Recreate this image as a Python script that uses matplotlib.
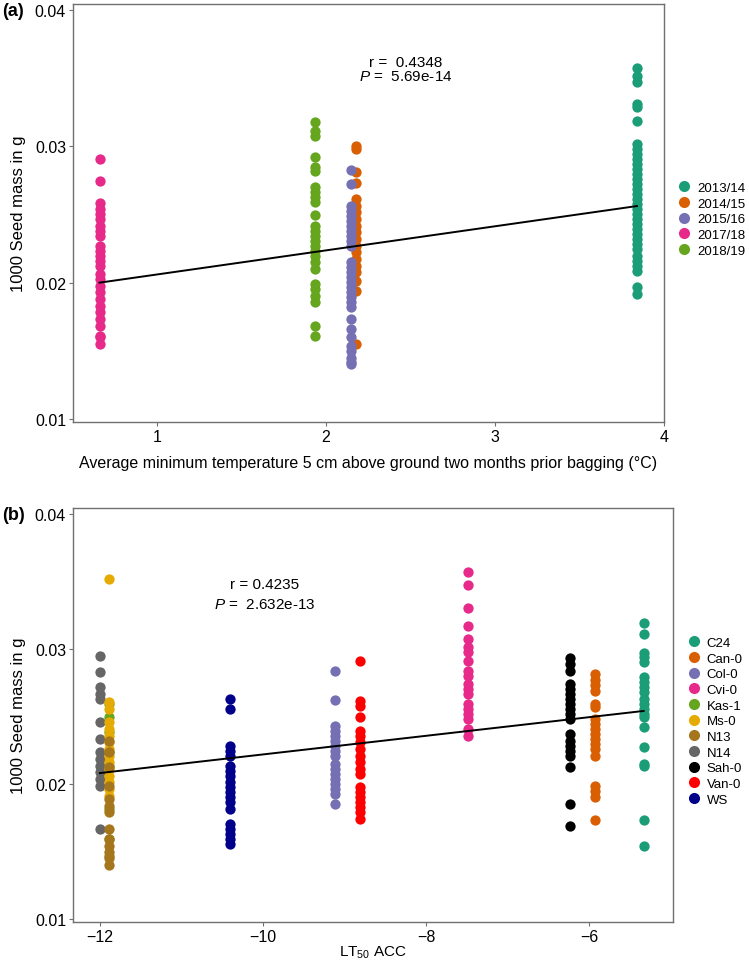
import numpy as np
import matplotlib
matplotlib.use("Agg")
import matplotlib.pyplot as plt
from matplotlib.lines import Line2D

plt.rcParams['font.family'] = ['Liberation Sans', 'DejaVu Sans']
plt.rcParams['mathtext.fontset'] = 'custom'
plt.rcParams['mathtext.rm'] = 'Liberation Sans'
plt.rcParams['mathtext.it'] = 'Liberation Sans:italic'

# ---- panel (a): seed mass vs temperature, per season ----
seasons = ['2013/14', '2014/15', '2015/16', '2017/18', '2018/19']
season_colors = ['#1B9E77', '#D95F02', '#7570B3', '#E7298A', '#66A61E']
season_temp = [3.84, 2.18, 2.146, 0.66, 1.935]

mass_1314 = [0.03575, 0.03518, 0.0347, 0.0331, 0.03286, 0.03188, 0.03017, 0.0298,
             0.02943, 0.02907, 0.0287, 0.02834, 0.02797, 0.0276, 0.02724, 0.02687,
             0.0265, 0.02614, 0.02577, 0.0254, 0.02504, 0.02467, 0.0243, 0.02394,
             0.02357, 0.0232, 0.02284, 0.02247, 0.02198, 0.02161, 0.02125, 0.02088,
             0.01966, 0.01917]
mass_1415 = [0.03005, 0.0298, 0.0281, 0.02729, 0.02614, 0.02565, 0.02516, 0.02467,
             0.02418, 0.02369, 0.0232, 0.02271, 0.02222, 0.02174, 0.02125, 0.02076,
             0.02015, 0.01941, 0.0155]
mass_1516 = [0.02826, 0.02724, 0.02565, 0.02528, 0.02491, 0.02455, 0.02418, 0.02381,
             0.02345, 0.02308, 0.02271, 0.02149, 0.02113, 0.02076, 0.02039, 0.02003,
             0.01966, 0.01929, 0.01893, 0.01856, 0.01819, 0.01733, 0.0166, 0.01599,
             0.01538, 0.0150, 0.0145, 0.0142, 0.0140]
mass_1718 = [0.02907, 0.02743, 0.02584, 0.0254, 0.02503, 0.02467, 0.02418, 0.02381,
             0.02345, 0.02271, 0.02235, 0.02198, 0.02161, 0.02125, 0.02064, 0.02027,
             0.01978, 0.01929, 0.0188, 0.01831, 0.01782, 0.01733, 0.01684, 0.01611,
             0.0160, 0.0155]
mass_1819 = [0.03176, 0.03115, 0.03078, 0.02919, 0.02846, 0.02821, 0.027, 0.02663,
             0.02626, 0.0259, 0.02496, 0.02418, 0.02381, 0.02345, 0.02308, 0.02271,
             0.02235, 0.02198, 0.02149, 0.021, 0.0199, 0.01953, 0.01904, 0.01856,
             0.01684, 0.01611]
season_mass = [mass_1314, mass_1415, mass_1516, mass_1718, mass_1819]

fit_a_x = [0.66, 3.84]
fit_a_y = [0.0200, 0.02562]

# ---- panel (b): seed mass vs LT50 ACC, per accession ----
accessions = ['C24', 'Can-0', 'Col-0', 'Cvi-0', 'Kas-1', 'Ms-0', 'N13', 'N14',
              'Sah-0', 'Van-0', 'WS']
acc_colors = ['#1B9E77', '#D95F02', '#7570B3', '#E7298A', '#66A61E', '#E6AB02',
              '#A6761D', '#666666', '#000000', '#FF0000', '#00008B']
acc_lt50 = [-5.33, -5.93, -9.11, -7.48, -11.89, -11.89, -11.89, -12.0, -6.23, -8.81, -10.41]

m_c24 = [0.03193, 0.03111, 0.0297, 0.02938, 0.02901, 0.0279, 0.02753, 0.02716,
         0.02679, 0.0263, 0.02593, 0.02556, 0.02519, 0.02494, 0.0242, 0.02272,
         0.02148, 0.02131, 0.01736, 0.0154]
m_can0 = [0.02815, 0.02773, 0.02733, 0.02686, 0.02593, 0.02568, 0.02481, 0.02444,
          0.02407, 0.0237, 0.02333, 0.02296, 0.02259, 0.0221, 0.01988, 0.01951,
          0.01901, 0.01736]
m_col0 = [0.0284, 0.02625, 0.02432, 0.02395, 0.02358, 0.02321, 0.02284, 0.02247,
          0.0221, 0.02148, 0.02111, 0.02074, 0.02037, 0.02, 0.01963, 0.01926, 0.01852]
m_cvi0 = [0.03573, 0.03474, 0.03301, 0.03173, 0.03074, 0.03012, 0.02975, 0.02914,
          0.0284, 0.02802, 0.02741, 0.02704, 0.02667, 0.02593, 0.02556, 0.02519,
          0.02481, 0.02407, 0.02358]
m_kas1 = [0.02593, 0.02494, 0.02383, 0.02235, 0.02136, 0.01815, 0.01593]
m_ms0 = [0.03519, 0.02605, 0.02556, 0.02457, 0.02407, 0.02358, 0.02309, 0.02259,
         0.0221, 0.02161, 0.02111, 0.02062, 0.02012, 0.01963, 0.01914]
m_n13 = [0.02321, 0.02235, 0.02124, 0.01988, 0.01889, 0.0184, 0.01791, 0.01667,
         0.01593, 0.01543, 0.01494, 0.01469, 0.0145, 0.0140]
m_n14 = [0.02951, 0.02827, 0.02716, 0.02667, 0.0263, 0.02457, 0.02333, 0.02235,
         0.02185, 0.02136, 0.02086, 0.02037, 0.01988, 0.01667]
m_sah0 = [0.02931, 0.02889, 0.0284, 0.02741, 0.02704, 0.02667, 0.0263, 0.02593,
          0.02556, 0.02519, 0.02481, 0.0237, 0.02321, 0.02284, 0.02247, 0.0221,
          0.02123, 0.01852, 0.01691]
m_van0 = [0.02909, 0.02617, 0.0258, 0.02494, 0.02395, 0.02358, 0.02309, 0.02259,
          0.0221, 0.02161, 0.02111, 0.02074, 0.01975, 0.01938, 0.01901, 0.01864,
          0.01827, 0.0179, 0.01741]
m_ws = [0.0263, 0.02556, 0.02284, 0.02247, 0.0221, 0.02136, 0.02099, 0.02062,
        0.02012, 0.01975, 0.01938, 0.01901, 0.01864, 0.01815, 0.01704, 0.01667,
        0.0163, 0.01593, 0.01556]
acc_mass = [m_c24, m_can0, m_col0, m_cvi0, m_kas1, m_ms0, m_n13, m_n14, m_sah0,
            m_van0, m_ws]

fit_b_x = [-12.0, -5.33]
fit_b_y = [0.02081, 0.02541]

W, H = 749, 962
fig = plt.figure(figsize=(W / 100, H / 100), dpi=100)
ax1 = fig.add_axes([73 / W, 1 - 423 / H, 591 / W, 418 / H])
ax2 = fig.add_axes([73 / W, 1 - 923 / H, 600 / W, 414 / H])

# draw order: N14 first, then Kas-1, Ms-0, N13 on top
order_b = [7, 4, 5, 6, 10, 2, 9, 3, 8, 1, 0]

for i in range(len(seasons)):
    ax1.scatter([season_temp[i]] * len(season_mass[i]), season_mass[i], s=55,
                color=season_colors[i], linewidths=0, zorder=2)
ax1.plot(fit_a_x, fit_a_y, color='black', lw=1.4, zorder=3)

for i in order_b:
    ax2.scatter([acc_lt50[i]] * len(acc_mass[i]), acc_mass[i], s=55,
                color=acc_colors[i], linewidths=0, zorder=2)
ax2.plot(fit_b_x, fit_b_y, color='black', lw=1.4, zorder=3)

for ax in (ax1, ax2):
    ax.set_ylim(0.00978, 0.04044)
    ax.set_yticks([0.01, 0.02, 0.03, 0.04])
    ax.set_yticklabels(['0.01', '0.02', '0.03', '0.04'])
    ax.set_ylabel('1000 Seed mass in g', fontsize=12, labelpad=6)
    for sp in ax.spines.values():
        sp.set_color('#707070')
        sp.set_linewidth(1.0)
    ax.tick_params(length=3, width=0.8, color='#707070', labelsize=11.5,
                   labelcolor='black', pad=2)

ax1.set_xlim(0.503, 4.0)
ax1.set_xticks([1, 2, 3, 4])
ax1.set_xlabel('Average minimum temperature 5 cm above ground two months prior bagging (°C)',
               fontsize=11.5, labelpad=8)
ax1.text(2.47, 0.03619, 'r =  0.4348', ha='center', va='center', fontsize=11)
ax1.text(2.47, 0.03516, r'$\mathit{P}$ =  5.69e-14', ha='center', va='center', fontsize=11)

ax2.set_xlim(-12.33, -4.97)
ax2.set_xticks([-12, -10, -8, -6])
ax2.set_xlabel(r'LT$_{50}$ ACC', fontsize=11, labelpad=0)
ax2.text(-9.98, 0.03481, 'r = 0.4235', ha='center', va='center', fontsize=11)
ax2.text(-9.98, 0.03333, r'$\mathit{P}$ =  2.632e-13', ha='center', va='center', fontsize=11)

handles_a = [Line2D([], [], ls='', marker='o', ms=8, color=c, mec='none') for c in season_colors]
ax1.legend(handles_a, seasons, loc='center left', bbox_to_anchor=(1.01, 0.485),
           frameon=False, fontsize=9.5, handletextpad=0.3, labelspacing=0.26,
           borderaxespad=0, handlelength=1.4)
handles_b = [Line2D([], [], ls='', marker='o', ms=8, color=c, mec='none') for c in acc_colors]
ax2.legend(handles_b, accessions, loc='center left', bbox_to_anchor=(1.01, 0.485),
           frameon=False, fontsize=9.5, handletextpad=0.3, labelspacing=0.26,
           borderaxespad=0, handlelength=1.4)

fig.text(2 / W, 1 - 12 / H, '(a)', fontsize=13, fontweight='bold', va='center')
fig.text(2 / W, 1 - 516 / H, '(b)', fontsize=13, fontweight='bold', va='center')

fig.savefig('out.png', dpi=100)
